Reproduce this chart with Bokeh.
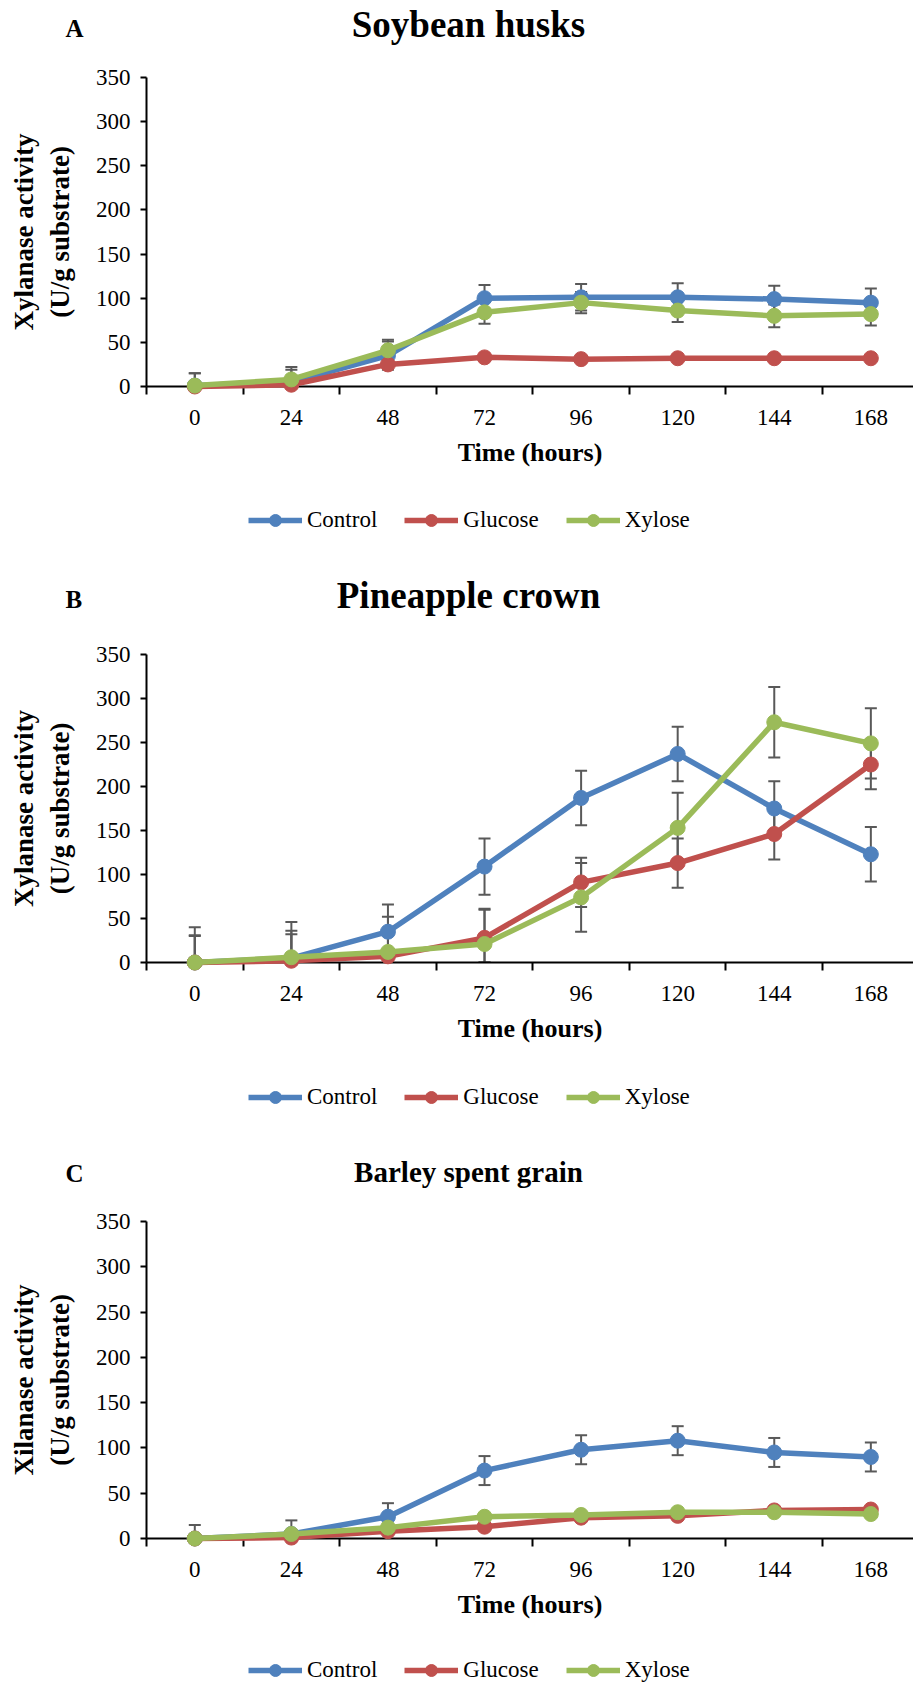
from bokeh.plotting import figure
from bokeh.models import (Range1d, FixedTicker, Whisker, TeeHead, ColumnDataSource,
                          Legend, LegendItem, Label)
from bokeh.layouts import column
from bokeh.embed import file_html
from bokeh.resources import INLINE

# ---------------- data ----------------
hours = [0, 24, 48, 72, 96, 120, 144, 168]
hour_labels = ["0", "24", "48", "72", "96", "120", "144", "168"]
y_ticks = [0, 50, 100, 150, 200, 250, 300, 350]
series_names = ["Control", "Glucose", "Xylose"]

soy_control = [1, 5, 35, 100, 101, 101, 99, 95]
soy_control_err = [14, 14, 16, 15, 15, 16, 15, 16]
soy_glucose = [0, 2, 25, 33, 31, 32, 32, 32]
soy_glucose_err = [2, 2, 2, 2, 2, 2, 2, 2]
soy_xylose = [1, 8, 41, 84, 95, 86, 80, 82]
soy_xylose_err = [14, 14, 12, 13, 12, 13, 13, 13]

pine_control = [0, 5, 35, 109, 187, 237, 175, 123]
pine_control_err = [31, 31, 31, 32, 31, 31, 31, 31]
pine_glucose = [0, 2, 7, 28, 91, 113, 146, 225]
pine_glucose_err = [30, 30, 30, 32, 28, 28, 29, 28]
pine_xylose = [0, 6, 12, 21, 74, 153, 273, 249]
pine_xylose_err = [40, 40, 40, 40, 39, 40, 40, 40]

barley_control = [0, 5, 24, 75, 98, 108, 95, 90]
barley_control_err = [15, 15, 15, 16, 16, 16, 16, 16]
barley_glucose = [0, 1, 8, 13, 23, 25, 31, 32]
barley_glucose_err = [2, 2, 2, 2, 2, 2, 2, 2]
barley_xylose = [0, 5, 12, 24, 26, 29, 29, 27]
barley_xylose_err = [2, 2, 2, 2, 2, 2, 2, 2]

colors = ["#4F81BD", "#C0504D", "#9BBB59"]
ERR_COLOR = "#595959"
FONT = "Liberation Serif"

# ---------------- layout constants ----------------
W = 913
FRAME_L = 146
X0, X1 = -12.0, 178.6
Y_MAX = 350
LEG_GLYPH_H = 30


def blank_fig(height):
    q = figure(width=W, height=height, x_range=Range1d(0, W), y_range=Range1d(0, height),
               output_backend="svg", toolbar_location=None,
               x_axis_location=None, y_axis_location=None,
               min_border_left=0, min_border_right=0, min_border_top=0,
               min_border_bottom=0, outline_line_color=None,
               background_fill_color="white", border_fill_color="white",
               frame_align=False)
    q.xgrid.visible = False
    q.ygrid.visible = False
    return q


def make_header(title, letter, height, title_mid, letter_mid, title_size):
    h = blank_fig(height)
    h.add_layout(Label(x=468, y=height - title_mid, text=title,
                       text_font=FONT, text_font_style="bold",
                       text_font_size=title_size, text_align="center",
                       text_baseline="middle", text_color="black"))
    h.add_layout(Label(x=65, y=height - letter_mid, text=letter,
                       text_font=FONT, text_font_style="bold",
                       text_font_size="25px", text_align="left",
                       text_baseline="middle", text_color="black"))
    return h


def make_panel(ylab, data, height, ftop, fbot):
    p = figure(width=W, height=height, x_range=Range1d(X0, X1), y_range=Range1d(0, Y_MAX),
               output_backend="svg", toolbar_location=None,
               min_border_left=FRAME_L, min_border_right=0,
               min_border_top=ftop, min_border_bottom=height - fbot,
               outline_line_color=None, background_fill_color="white",
               border_fill_color="white", frame_align=False)
    p.xgrid.visible = False
    p.ygrid.visible = False

    # x axis
    xa = p.xaxis[0]
    minor = [h - 12 for h in hours] + [hours[-1] + 12]
    xa.ticker = FixedTicker(ticks=hours, minor_ticks=minor)
    xa.major_label_overrides = {h: l for h, l in zip(hours, hour_labels)}
    xa.major_tick_out = 0
    xa.major_tick_in = 0
    xa.minor_tick_out = 8
    xa.minor_tick_in = 0
    xa.minor_tick_line_color = "black"
    xa.minor_tick_line_width = 2
    xa.axis_line_color = "black"
    xa.axis_line_width = 2
    xa.major_label_text_font = FONT
    xa.major_label_text_font_size = "23px"
    xa.major_label_text_color = "black"
    xa.major_label_standoff = 15
    xa.axis_label = "Time (hours)"
    xa.axis_label_text_font = FONT
    xa.axis_label_text_font_style = "bold"
    xa.axis_label_text_font_size = "26px"
    xa.axis_label_text_color = "black"
    xa.axis_label_standoff = 10

    # y axis
    ya = p.yaxis[0]
    ya.ticker = FixedTicker(ticks=y_ticks)
    ya.minor_tick_line_color = None
    ya.major_tick_out = 6
    ya.major_tick_in = 0
    ya.major_tick_line_width = 2
    ya.major_tick_line_color = "black"
    ya.axis_line_color = "black"
    ya.axis_line_width = 2
    ya.major_label_text_font = FONT
    ya.major_label_text_font_size = "23px"
    ya.major_label_text_color = "black"
    ya.major_label_standoff = 10
    ya.axis_label = ylab
    ya.axis_label_text_font = FONT
    ya.axis_label_text_font_style = "bold"
    ya.axis_label_text_font_size = "27px"
    ya.axis_label_text_color = "black"
    ya.axis_label_standoff = 18

    for name, (vals, errs), col in zip(series_names, data, colors):
        src = ColumnDataSource(dict(
            x=hours, y=vals,
            upper=[v + e for v, e in zip(vals, errs)],
            lower=[max(v - e, 0) for v, e in zip(vals, errs)]))
        w = Whisker(base="x", upper="upper", lower="lower", source=src,
                    line_color=ERR_COLOR, line_width=2,
                    upper_head=TeeHead(size=12, line_color=ERR_COLOR, line_width=2),
                    lower_head=TeeHead(size=12, line_color=ERR_COLOR, line_width=2),
                    level="underlay")
        p.add_layout(w)
    for name, (vals, errs), col in zip(series_names, data, colors):
        src = ColumnDataSource(dict(x=hours, y=vals))
        p.line("x", "y", source=src, line_color=col, line_width=5.5, level="overlay")
        p.scatter("x", "y", source=src, size=15, fill_color=col, line_color=col,
                  level="overlay")
    return p


def make_legend(height, center_from_top):
    q = blank_fig(height)
    items = []
    for name, col in zip(series_names, colors):
        src = ColumnDataSource(dict(x=[float("nan")], y=[float("nan")]))
        ln = q.line("x", "y", source=src, line_color=col, line_width=5.5)
        sc = q.scatter("x", "y", source=src, size=15, fill_color=col, line_color=col)
        items.append(LegendItem(label=name, renderers=[ln, sc]))
    leg = Legend(items=items, orientation="horizontal",
                 location=(248, height - center_from_top - LEG_GLYPH_H / 2),
                 glyph_width=54, glyph_height=LEG_GLYPH_H, label_standoff=5, spacing=27,
                 padding=0, margin=0, border_line_color=None,
                 background_fill_alpha=0, label_text_font=FONT,
                 label_text_font_size="23px", label_text_color="black")
    q.add_layout(leg)
    return q


hA = make_header("Soybean husks", "A", 60, 24.3, 28.3, "37px")
pA = make_panel("Xylanase activity\n(U/g substrate)",
                [(soy_control, soy_control_err), (soy_glucose, soy_glucose_err),
                 (soy_xylose, soy_xylose_err)],
                430, 17, 326)
lA = make_legend(80, 30)

hB = make_header("Pineapple crown", "B", 60, 25.2, 29.1, "37px")
pB = make_panel("Xylanase activity\n(U/g substrate)",
                [(pine_control, pine_control_err), (pine_glucose, pine_glucose_err),
                 (pine_xylose, pine_xylose_err)],
                430, 24, 332)
lB = make_legend(80, 37)

hC = make_header("Barley spent grain", "C", 62, 31.3, 32.6, "29px")
pC = make_panel("Xilanase activity\n(U/g substrate)",
                [(barley_control, barley_control_err), (barley_glucose, barley_glucose_err),
                 (barley_xylose, barley_xylose_err)],
                422, 19, 336)
lC = make_legend(62, 46)

layout = column(hA, pA, lA, hB, pB, lB, hC, pC, lC, spacing=0)
open("out.html", "w").write(file_html(layout, INLINE))
